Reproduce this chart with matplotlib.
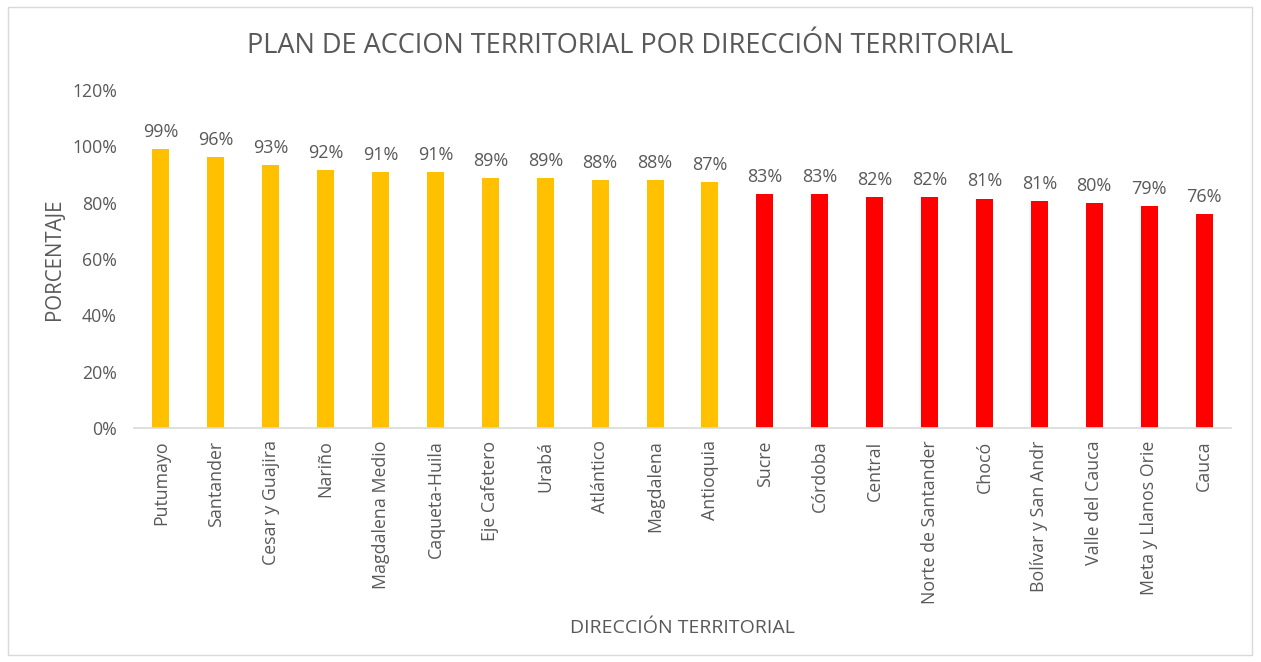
import matplotlib.pyplot as plt
from matplotlib.patches import Rectangle
from matplotlib.ticker import FuncFormatter

# datos
direcciones = ["Putumayo", "Santander", "Cesar y Guajira", "Nariño", "Magdalena Medio",
               "Caqueta-Huila", "Eje Cafetero", "Urabá", "Atlántico", "Magdalena",
               "Antioquia", "Sucre", "Córdoba", "Central", "Norte de Santander",
               "Chocó", "Bolívar y San Andr", "Valle del Cauca", "Meta y Llanos Orie", "Cauca"]
porcentaje = [0.989, 0.961, 0.933, 0.915, 0.908, 0.908, 0.887, 0.887, 0.879, 0.879,
              0.872, 0.830, 0.830, 0.819, 0.819, 0.814, 0.806, 0.798, 0.787, 0.759]
grupo = ["alto"] * 11 + ["bajo"] * 9

colores = {"alto": "#FFC000", "bajo": "#FF0000"}
gris = "#595959"

plt.rcParams['font.family'] = ['Open Sans', 'DejaVu Sans']

fig = plt.figure(figsize=(12.61, 6.62), dpi=100)
ax = fig.add_axes([0.1059, 0.3535, 0.8707, 0.5105])

x = range(len(direcciones))
barras = ax.bar(x, porcentaje, width=0.31, color=[colores[g] for g in grupo])

for xi, v in zip(x, porcentaje):
    ax.text(xi, v + 0.03, f"{round(v * 100):.0f}%", ha='center', va='bottom',
            fontsize=13, color=gris)

ax.set_xlim(-0.5, len(direcciones) - 0.5)
ax.set_ylim(0, 1.2)
ax.set_yticks([0, 0.2, 0.4, 0.6, 0.8, 1.0, 1.2])
ax.yaxis.set_major_formatter(FuncFormatter(lambda v, p: f"{v * 100:.0f}%"))
ax.set_xticks(list(x))
ax.set_xticklabels(direcciones, rotation=90, fontsize=12.8, color=gris)
ax.tick_params(axis='y', labelsize=12.7, labelcolor=gris, length=0, pad=12)
ax.tick_params(axis='x', length=0, pad=9)

for s in ['top', 'right', 'left']:
    ax.spines[s].set_visible(False)
ax.spines['bottom'].set_color('#D9D9D9')
ax.spines['bottom'].set_linewidth(1.2)

ax.set_ylabel("PORCENTAJE", fontsize=14.8, color=gris, labelpad=5)
fig.text(0.541, 0.051, "DIRECCIÓN TERRITORIAL", ha='center', va='center',
         fontsize=14, color=gris)
fig.text(0.5, 0.93, "PLAN DE ACCION TERRITORIAL POR DIRECCIÓN TERRITORIAL",
         ha='center', va='center', fontsize=19.5, color=gris)

# borde del grafico
fig.patches.append(Rectangle((8 / 1261, 7 / 662), 1244 / 1261, 648 / 662,
                             transform=fig.transFigure, fill=False,
                             edgecolor='#D9D9D9', linewidth=1))

fig.savefig("out.png", dpi=100)
